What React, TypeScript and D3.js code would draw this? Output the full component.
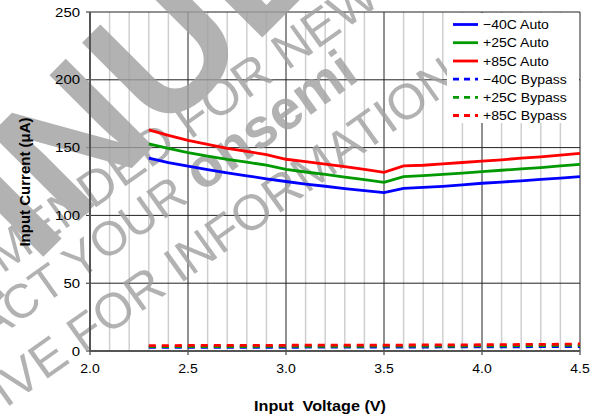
import React from 'react';
import * as d3 from 'd3';

const voltages = [2.3, 2.4, 2.5, 2.6, 2.7, 2.8, 2.9, 3.0, 3.1, 3.2, 3.3, 3.4, 3.5, 3.6, 3.7, 3.8, 3.9, 4.0, 4.1, 4.2, 4.3, 4.4, 4.5];
const autoM40 = [142.2, 139, 136.3, 133.7, 131.3, 129.2, 127, 125, 123, 121.5, 119.8, 118.2, 116.8, 120, 120.6, 121.4, 122.5, 123.7, 124.6, 125.5, 126.5, 127.5, 128.6];
const auto25 = [152.7, 149.5, 146.3, 143.8, 141.3, 139.3, 137, 134, 132, 130.2, 128.3, 126.3, 124.4, 128.6, 129.3, 130.2, 131.2, 132.3, 133.3, 134.3, 135.3, 136.5, 137.7];
const auto85 = [163, 159, 155.3, 152.3, 149.5, 147.2, 144.8, 141.4, 139.6, 137.8, 136, 134, 131.8, 136.5, 137, 138, 139, 140.1, 141, 142.2, 143.2, 144.4, 145.8];
const bypM40 = [2.6, 2.6, 2.6, 2.6, 2.7, 2.7, 2.7, 2.7, 2.8, 2.8, 2.8, 2.8, 2.9, 2.9, 2.9, 3.0, 3.0, 3.0, 3.1, 3.1, 3.2, 3.2, 3.3];
const byp25 = [3.2, 3.2, 3.2, 3.3, 3.3, 3.3, 3.4, 3.4, 3.4, 3.5, 3.5, 3.5, 3.6, 3.6, 3.6, 3.7, 3.7, 3.8, 3.8, 3.9, 4.0, 4.1, 4.2];
const byp85 = [4.0, 4.0, 4.1, 4.1, 4.1, 4.2, 4.2, 4.2, 4.3, 4.3, 4.3, 4.4, 4.4, 4.4, 4.5, 4.5, 4.5, 4.6, 4.7, 4.8, 4.9, 5.0, 5.2];

const seriesNames = ['\u221240C Auto', '+25C Auto', '+85C Auto', '\u221240C Bypass', '+25C Bypass', '+85C Bypass'];
const seriesColors = ['#0000ff', '#009a00', '#ff0000', '#0000ff', '#009a00', '#ff0000'];
const seriesDashed = [false, false, false, true, true, true];
const seriesValues = [autoM40, auto25, auto85, bypM40, byp25, byp85];

const xTicks = [2.0, 2.5, 3.0, 3.5, 4.0, 4.5];
const yTicks = [0, 50, 100, 150, 200, 250];
const xTitle = 'Input  Voltage (V)';
const yTitle = 'Input Current (\u03bcA)';

const W = 594, H = 416;
const FONT = 'Liberation Sans, Arial, Helvetica, sans-serif';

export default function App() {
  const x = d3.scaleLinear().domain([2.0, 4.5]).range([90, 580]);
  const y = d3.scaleLinear().domain([0, 250]).range([351, 12]);
  const minor = d3.range(21, 45).map(v => v / 10).filter(v => Math.abs(v * 2 - Math.round(v * 2)) > 1e-6);
  const line = d3.line<number>().x((_, i) => x(voltages[i])).y(d => y(d));

  const legendRows = [24.5, 42.7, 61, 79.2, 97.4, 115.5];

  return (
    <svg width={W} height={H} style={{ position: 'absolute', left: 0, top: 0, background: '#fff' }} fontFamily={FONT}>
      <rect x={0} y={0} width={W} height={H} fill="#fff" />
      {minor.map(v => (
        <line key={'mv' + v} x1={x(v)} x2={x(v)} y1={y(250)} y2={y(0)} stroke="#cfcfcf" strokeWidth={1.5} />
      ))}
      {xTicks.map(v => (
        <line key={'Mv' + v} x1={x(v)} x2={x(v)} y1={y(250)} y2={y(0) + 4} stroke="#222" strokeWidth={1} />
      ))}
      {yTicks.map(v => (
        <line key={'Mh' + v} x1={x(2.0) - 4} x2={x(4.5)} y1={y(v)} y2={y(v)} stroke="#222" strokeWidth={1} />
      ))}
      <g fill="#a0a0a0" opacity={0.8}>
        <text transform="rotate(-45)" x={-973} y={212} fontSize={180} fontWeight="bold">DISCONTINUED</text>
        <g transform="rotate(-35.5)">
          <text x={-462} y={224.5} fontSize={50}>NOT RECOMMENDED FOR NEW DESIGN</text>
          <text x={248} y={274} fontSize={48} textAnchor="end">CONTACT YOUR <tspan fontWeight="bold" fontSize={56}>onsemi</tspan></text>
          <text x={327.7} y={335.9} fontSize={50} textAnchor="end">REPRESENTATIVE FOR INFORMATION</text>
        </g>
      </g>
      <line x1={x(2.0)} x2={x(2.0)} y1={y(250)} y2={y(0)} stroke="#555" strokeWidth={2} />
      <line x1={x(2.0)} x2={x(4.5)} y1={y(0)} y2={y(0)} stroke="#555" strokeWidth={2} />
      {seriesValues.map((vals, i) => (
        <path key={'s' + i} d={line(vals) || ''} fill="none" stroke={seriesColors[i]} strokeWidth={2.8}
          strokeDasharray={seriesDashed[i] ? '7 6' : undefined} />
      ))}
      {yTicks.map(v => (
        <g key={'yl' + v} transform={`translate(80,${y(v) + 4.5}) scale(1.15,1)`}>
          <text textAnchor="end" fontSize={13} fill="#000">{v}</text>
        </g>
      ))}
      {xTicks.map(v => (
        <g key={'xl' + v} transform={`translate(${x(v)},${373}) scale(1.08,1)`}>
          <text textAnchor="middle" fontSize={13} fill="#000">{v.toFixed(1)}</text>
        </g>
      ))}
      <g transform={`translate(320,411) scale(1.08,1)`}>
        <text textAnchor="middle" fontSize={15} fontWeight="bold" style={{ whiteSpace: 'pre' }}>{xTitle}</text>
      </g>
      <text transform={`translate(30,182) rotate(-90)`} textAnchor="middle" fontSize={15} fontWeight="bold">{yTitle}</text>
      <rect x={447} y={13} width={132} height={110} fill="#fff" />
      {seriesNames.map((n, i) => (
        <g key={'lg' + i}>
          <line x1={453} x2={478} y1={legendRows[i]} y2={legendRows[i]} stroke={seriesColors[i]} strokeWidth={2.8}
            strokeDasharray={seriesDashed[i] ? '6 5' : undefined} />
          <g transform={`translate(483,${legendRows[i] + 4.5}) scale(1.08,1)`}>
            <text fontSize={13} fill="#000">{n}</text>
          </g>
        </g>
      ))}
    </svg>
  );
}
